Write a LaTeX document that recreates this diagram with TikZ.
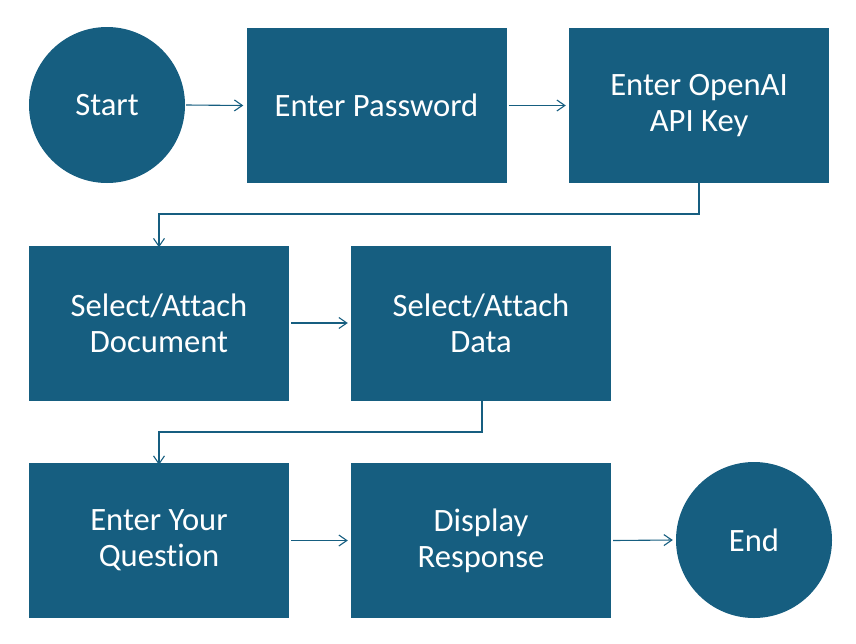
\documentclass[tikz,border=0pt]{standalone}
\usepackage{fontspec}
\setmainfont[Ligatures={NoCommon}]{Carlito}
\usetikzlibrary{arrows.meta}
\definecolor{boxblue}{RGB}{22,94,128}
\begin{document}
\begin{tikzpicture}[x=1pt,y=-1pt,
  stepbox/.style={fill=boxblue,draw=none,minimum width=260pt,minimum height=155pt,inner sep=0pt,
    text=white,align=center,font=\fontsize{32.6}{36}\selectfont},
  endpoint/.style={circle,fill=boxblue,draw=none,minimum size=156pt,inner sep=0pt,
    text=white,font=\fontsize{32.6}{36}\selectfont},
  conn/.style={draw=boxblue,line width=1.1pt,-{Straight Barb[length=8pt,width=11pt]}}]
\useasboundingbox (0,0) rectangle (856,643);
\node[endpoint] (start) at (107,105) {Start};
\node[stepbox] (pw) at (376.5,105.5) {Enter Password};
\node[stepbox] (key) at (699,105.5) {Enter OpenAI\\API Key};
\node[stepbox] (doc) at (159,323) {Select/Attach\\Document};
\node[stepbox] (data) at (481,323) {Select/Attach\\Data};
\node[stepbox] (q) at (159,540.5) {Enter Your\\Question};
\node[stepbox] (resp) at (481,540.5) {Display\\Response};
\node[endpoint] (end) at (754,540) {End};
\coordinate (k1) at (699,214);
\coordinate (k2) at (159,214);
\coordinate (d1) at (482,432);
\coordinate (d2) at (159,432);
\draw[conn] ([xshift=1pt]start.east) -- ([xshift=-3pt]pw.west);
\draw[conn] ([xshift=2pt]pw.east) -- ([xshift=-3pt]key.west);
\draw[conn] ([yshift=1pt]key.south) -- (k1) -- (k2) -- ([yshift=-2pt]doc.north);
\draw[conn] ([xshift=2pt]doc.east) -- ([xshift=-3pt]data.west);
\draw[conn] ([xshift=1pt,yshift=1pt]data.south) -- (d1) -- (d2) -- ([yshift=-2pt]q.north);
\draw[conn] ([xshift=2pt]q.east) -- ([xshift=-3pt]resp.west);
\draw[conn] ([xshift=2pt]resp.east) -- ([xshift=-3pt]end.west);
\end{tikzpicture}
\end{document}
